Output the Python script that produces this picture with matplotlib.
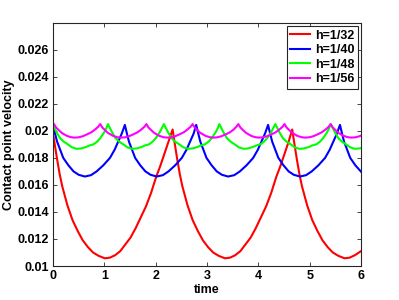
import matplotlib
matplotlib.use("Agg")
import matplotlib.pyplot as plt
from matplotlib.ticker import FormatStrFormatter

plt.rcParams['font.family'] = ['Liberation Sans', 'DejaVu Sans']
plt.rcParams['font.weight'] = 'bold'

# values
labels = ['h=1/32', 'h=1/40', 'h=1/48', 'h=1/56']
colors = ['#ff0000', '#0000ff', '#00ff00', '#ff00ff']

t_32 = [0.00, 0.03, 0.08, 0.13, 0.18, 0.28, 0.38, 0.48, 0.58, 0.68, 0.78, 0.89, 1.01,
        1.11, 1.21, 1.31, 1.41, 1.51, 1.61, 1.71, 1.81, 1.91, 2.01, 2.09, 2.17, 2.25, 2.33,
        2.37, 2.42, 2.47, 2.52, 2.62, 2.72, 2.82, 2.92, 3.02, 3.12, 3.23, 3.35,
        3.45, 3.55, 3.65, 3.75, 3.85, 3.95, 4.05, 4.15, 4.25, 4.35, 4.43, 4.51, 4.59, 4.66,
        4.70, 4.75, 4.80, 4.85, 4.95, 5.05, 5.15, 5.25, 5.35, 5.45, 5.56, 5.68,
        5.78, 5.88, 6.00]
v_32 = [0.0198, 0.0191, 0.0179, 0.0168, 0.0159, 0.0145, 0.0134, 0.0126, 0.0119, 0.0114, 0.0110, 0.01075, 0.01057,
        0.01062, 0.0108, 0.0111, 0.0116, 0.0121, 0.0128, 0.0136, 0.0144, 0.0154, 0.0166, 0.0174, 0.0183, 0.0192, 0.0201,
        0.0191, 0.0179, 0.0168, 0.0159, 0.0145, 0.0134, 0.0126, 0.0119, 0.0114, 0.0110, 0.01075, 0.01057,
        0.01062, 0.0108, 0.0111, 0.0116, 0.0121, 0.0128, 0.0136, 0.0144, 0.0154, 0.0166, 0.0174, 0.0183, 0.0192, 0.0201,
        0.0191, 0.0179, 0.0168, 0.0159, 0.0145, 0.0134, 0.0126, 0.0119, 0.0114, 0.0110, 0.01075, 0.01057,
        0.01062, 0.0108, 0.0111]

t_40 = [0.00, 0.04, 0.08, 0.14, 0.20, 0.30, 0.40, 0.50, 0.62, 0.74, 0.85, 0.98, 1.11, 1.20, 1.27, 1.34, 1.40,
        1.44, 1.48, 1.54, 1.60, 1.70, 1.80, 1.90, 2.02, 2.14, 2.25, 2.38, 2.51, 2.60, 2.67, 2.74, 2.79,
        2.83, 2.87, 2.93, 2.99, 3.09, 3.19, 3.29, 3.41, 3.53, 3.64, 3.77, 3.90, 3.99, 4.06, 4.13, 4.19,
        4.23, 4.27, 4.33, 4.39, 4.49, 4.59, 4.69, 4.81, 4.93, 5.04, 5.17, 5.30, 5.39, 5.46, 5.53, 5.59,
        5.63, 5.67, 5.73, 5.79, 5.89, 6.00]
v_40 = [0.0203, 0.0198, 0.0192, 0.0186, 0.0180, 0.01745, 0.0170, 0.01675, 0.01662, 0.01672, 0.0170, 0.01745, 0.0180, 0.0186, 0.0192, 0.0198, 0.02044,
        0.0198, 0.0192, 0.0186, 0.0180, 0.01745, 0.0170, 0.01675, 0.01662, 0.01672, 0.0170, 0.01745, 0.0180, 0.0186, 0.0192, 0.0198, 0.02044,
        0.0198, 0.0192, 0.0186, 0.0180, 0.01745, 0.0170, 0.01675, 0.01662, 0.01672, 0.0170, 0.01745, 0.0180, 0.0186, 0.0192, 0.0198, 0.02044,
        0.0198, 0.0192, 0.0186, 0.0180, 0.01745, 0.0170, 0.01675, 0.01662, 0.01672, 0.0170, 0.01745, 0.0180, 0.0186, 0.0192, 0.0198, 0.02044,
        0.0198, 0.0192, 0.0186, 0.0180, 0.01745, 0.01698]

t_48 = [0.00, 0.03, 0.07, 0.14, 0.21, 0.29, 0.37, 0.46, 0.55, 0.64, 0.72, 0.79, 0.86, 0.92, 1.00, 1.04, 1.07,
        1.11, 1.15, 1.22, 1.29, 1.37, 1.45, 1.54, 1.63, 1.72, 1.80, 1.87, 1.94, 2.00, 2.08, 2.12, 2.16,
        2.20, 2.24, 2.31, 2.38, 2.46, 2.54, 2.63, 2.72, 2.81, 2.89, 2.96, 3.03, 3.09, 3.17, 3.21, 3.24,
        3.28, 3.32, 3.39, 3.46, 3.54, 3.62, 3.71, 3.80, 3.89, 3.97, 4.04, 4.11, 4.17, 4.25, 4.29, 4.33,
        4.37, 4.41, 4.48, 4.55, 4.63, 4.71, 4.80, 4.89, 4.98, 5.06, 5.13, 5.20, 5.26, 5.34, 5.38, 5.41,
        5.45, 5.49, 5.56, 5.63, 5.71, 5.79, 5.88, 5.97, 6.00]
v_48 = [0.0204, 0.0202, 0.0199, 0.01945, 0.0192, 0.0190, 0.01878, 0.01867, 0.0187, 0.0188, 0.01893, 0.0190, 0.0192, 0.01945, 0.0199, 0.0202, 0.0205,
        0.0202, 0.0199, 0.01945, 0.0192, 0.0190, 0.01878, 0.01867, 0.0187, 0.0188, 0.01893, 0.0190, 0.0192, 0.01945, 0.0199, 0.0202, 0.0205,
        0.0202, 0.0199, 0.01945, 0.0192, 0.0190, 0.01878, 0.01867, 0.0187, 0.0188, 0.01893, 0.0190, 0.0192, 0.01945, 0.0199, 0.0202, 0.0205,
        0.0202, 0.0199, 0.01945, 0.0192, 0.0190, 0.01878, 0.01867, 0.0187, 0.0188, 0.01893, 0.0190, 0.0192, 0.01945, 0.0199, 0.0202, 0.0205,
        0.0202, 0.0199, 0.01945, 0.0192, 0.0190, 0.01878, 0.01867, 0.0187, 0.0188, 0.01893, 0.0190, 0.0192, 0.01945, 0.0199, 0.0202, 0.0205,
        0.0202, 0.0199, 0.01945, 0.0192, 0.0190, 0.01878, 0.01867, 0.0187, 0.01872]

t_56 = [0.00, 0.02, 0.06, 0.10, 0.17, 0.27, 0.35, 0.42, 0.50, 0.58, 0.67, 0.75, 0.82, 0.88, 0.92,
        0.96, 1.00, 1.07, 1.17, 1.25, 1.32, 1.40, 1.48, 1.57, 1.65, 1.72, 1.78, 1.82,
        1.86, 1.90, 1.97, 2.07, 2.15, 2.22, 2.30, 2.38, 2.47, 2.55, 2.62, 2.68, 2.72,
        2.76, 2.80, 2.87, 2.97, 3.05, 3.12, 3.20, 3.28, 3.37, 3.45, 3.52, 3.57, 3.61,
        3.65, 3.69, 3.76, 3.86, 3.94, 4.01, 4.09, 4.17, 4.26, 4.34, 4.41, 4.47, 4.51,
        4.55, 4.59, 4.66, 4.76, 4.84, 4.91, 4.99, 5.07, 5.16, 5.24, 5.31, 5.37, 5.41,
        5.45, 5.49, 5.56, 5.66, 5.74, 5.81, 5.89, 5.97, 6.00]
v_56 = [0.0204, 0.0205, 0.02025, 0.0201, 0.01985, 0.01963, 0.01953, 0.0195, 0.01952, 0.0196, 0.01975, 0.0199, 0.0201, 0.0203, 0.0205,
        0.02025, 0.0201, 0.01985, 0.01963, 0.01953, 0.0195, 0.01952, 0.0196, 0.01975, 0.0199, 0.0201, 0.0203, 0.0205,
        0.02025, 0.0201, 0.01985, 0.01963, 0.01953, 0.0195, 0.01952, 0.0196, 0.01975, 0.0199, 0.0201, 0.0203, 0.0205,
        0.02025, 0.0201, 0.01985, 0.01963, 0.01953, 0.0195, 0.01952, 0.0196, 0.01975, 0.0199, 0.0201, 0.0203, 0.0205,
        0.02025, 0.0201, 0.01985, 0.01963, 0.01953, 0.0195, 0.01952, 0.0196, 0.01975, 0.0199, 0.0201, 0.0203, 0.0205,
        0.02025, 0.0201, 0.01985, 0.01963, 0.01953, 0.0195, 0.01952, 0.0196, 0.01975, 0.0199, 0.0201, 0.0203, 0.0205,
        0.02025, 0.0201, 0.01985, 0.01963, 0.01953, 0.0195, 0.01952, 0.0196, 0.01965]

xticks = [0, 1, 2, 3, 4, 5, 6]
yticks = [0.01, 0.012, 0.014, 0.016, 0.018, 0.02, 0.022, 0.024, 0.026]

fig = plt.figure(figsize=(3.99, 3.0), dpi=100)
ax = fig.add_axes([0.1328, 0.1133, 0.772, 0.811])

series = [(t_32, v_32), (t_40, v_40), (t_48, v_48), (t_56, v_56)]
for (t, v), c, lab in zip(series, colors, labels):
    ax.plot(t, v, color=c, lw=1.5, label=lab, solid_joinstyle='round')

ax.set_xlim(0, 6)
ax.set_ylim(0.01, 0.028)
ax.set_xticks(xticks)
ax.set_yticks(yticks)
ax.yaxis.set_major_formatter(FormatStrFormatter('%g'))
ax.tick_params(direction='in', top=True, right=True, labelsize=9, length=3,
               width=0.6, colors='#262626', labelcolor='black', pad=3)
for s in ax.spines.values():
    s.set_color('#262626')
    s.set_linewidth(0.8)

ax.set_xlabel('time', fontsize=9, fontweight='bold', labelpad=1)
ax.set_ylabel('Contact point velocity', fontsize=9, fontweight='bold', labelpad=1.5)

leg = ax.legend(loc='upper right', fontsize=9, handlelength=1.6, handletextpad=0.35,
                borderpad=0.3, labelspacing=0.2, borderaxespad=0.25, fancybox=False,
                framealpha=1)
leg.get_frame().set_edgecolor('#262626')
leg.get_frame().set_linewidth(0.8)
for txt in leg.get_texts():
    txt.set_fontweight('bold')

plt.savefig('out.png', dpi=100)
